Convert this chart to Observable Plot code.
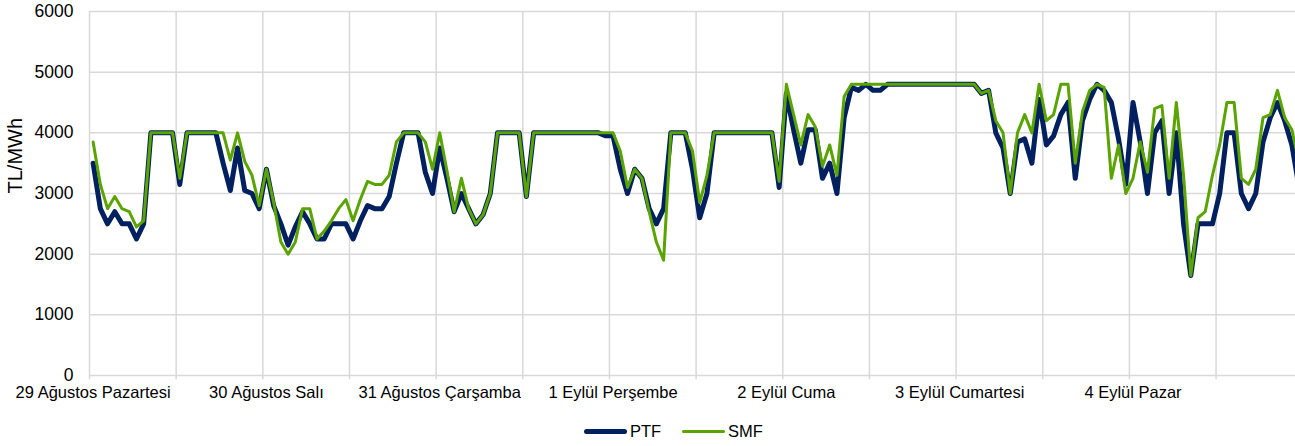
<!DOCTYPE html>
<html>
<head>
<meta charset="utf-8">
<script src="https://cdn.jsdelivr.net/npm/d3@7"></script>
<script src="https://cdn.jsdelivr.net/npm/@observablehq/plot@0.6"></script>
<style>
  html, body { margin: 0; padding: 0; background: #fff; overflow: hidden; }
  body { width: 1295px; height: 446px; font-family: "Liberation Sans", Arial, sans-serif; }
  #legend { position: relative; height: 30px; font-size: 16.5px; color: #000; }
  .item { position: absolute; top: 0; height: 30px; display: flex; align-items: center; }
  .sw { display: inline-block; width: 43px; border-radius: 3px; margin-right: 3px; }
</style>
</head>
<body>
<div id="chart"></div>
<div id="legend">
  <div class="item" style="left:584px"><span class="sw" style="height:5px;background:#002060"></span>PTF</div>
  <div class="item" style="left:682px"><span class="sw" style="height:3px;background:#5aa400"></span>SMF</div>
</div>
<script>
const dayLabels = ["29 Ağustos Pazartesi", "30 Ağustos Salı", "31 Ağustos Çarşamba", "1 Eylül Perşembe", "2 Eylül Cuma", "3 Eylül Cumartesi", "4 Eylül Pazar"];
const yTicks = [0, 1000, 2000, 3000, 4000, 5000, 6000];

const ptf = [
  3500, 2750, 2500, 2700, 2500, 2500, 2250, 2500, 4000, 4000, 4000, 4000, 3150, 4000, 4000, 4000, 4000, 4000, 3500, 3050, 3750, 3050, 3000, 2750,
  3400, 2800, 2500, 2150, 2450, 2700, 2500, 2250, 2250, 2500, 2500, 2500, 2250, 2550, 2800, 2750, 2750, 2950, 3500, 4000, 4000, 4000, 3350, 3000,
  3750, 3250, 2700, 3000, 2750, 2500, 2650, 3000, 4000, 4000, 4000, 4000, 2950, 4000, 4000, 4000, 4000, 4000, 4000, 4000, 4000, 4000, 4000, 3950,
  3950, 3400, 3000, 3400, 3250, 2750, 2500, 2750, 4000, 4000, 4000, 3400, 2600, 3000, 4000, 4000, 4000, 4000, 4000, 4000, 4000, 4000, 4000, 3100,
  4650, 4050, 3500, 4050, 4050, 3250, 3500, 3000, 4250, 4750, 4700, 4800, 4700, 4700, 4800, 4800, 4800, 4800, 4800, 4800, 4800, 4800, 4800, 4800,
  4800, 4800, 4800, 4650, 4700, 4000, 3750, 3000, 3850, 3900, 3500, 4550, 3800, 3950, 4300, 4500, 3250, 4200, 4550, 4800, 4700, 4500, 3900, 3150,
  4500, 3850, 3000, 4000, 4200, 3000, 4000, 2500, 1650, 2500, 2500, 2500, 3000, 4000, 4000, 3000, 2750, 3000, 3850, 4250, 4500, 4200, 3800, 3100
];
const smf = [
  3850, 3150, 2750, 2950, 2750, 2700, 2450, 2550, 4000, 4000, 4000, 4000, 3250, 4000, 4000, 4000, 4000, 4000, 4000, 3550, 4000, 3530, 3300, 2800,
  3400, 2850, 2200, 2000, 2200, 2750, 2750, 2250, 2380, 2550, 2750, 2900, 2550, 2900, 3200, 3150, 3150, 3300, 3850, 4000, 4000, 4000, 3850, 3400,
  4000, 3370, 2700, 3250, 2750, 2500, 2650, 3000, 4000, 4000, 4000, 4000, 2950, 4000, 4000, 4000, 4000, 4000, 4000, 4000, 4000, 4000, 4000, 4000,
  4000, 3700, 3100, 3400, 3250, 2700, 2200, 1900, 4000, 4000, 4000, 3700, 2850, 3300, 4000, 4000, 4000, 4000, 4000, 4000, 4000, 4000, 4000, 3200,
  4800, 4300, 3800, 4300, 4100, 3450, 3800, 3300, 4600, 4800, 4800, 4800, 4800, 4800, 4800, 4800, 4800, 4800, 4800, 4800, 4800, 4800, 4800, 4800,
  4800, 4800, 4800, 4650, 4700, 4200, 4000, 3000, 4000, 4300, 4000, 4800, 4200, 4300, 4800, 4800, 3500, 4350, 4700, 4800, 4750, 3250, 3800, 3000,
  3250, 3850, 3350, 4400, 4450, 3250, 4500, 3300, 1650, 2600, 2700, 3300, 3800, 4500, 4500, 3250, 3150, 3400, 4250, 4300, 4700, 4250, 4050, 3500
];

const rows = ptf.map((v, i) => ({ x: i + 0.5, ptf: v, smf: smf[i] }));
const xGrid = d3.range(0, 168, 12);
const dayTicks = dayLabels.map((d, k) => k * 24 + 0.5);

const chart = Plot.plot({
  width: 1295,
  height: 416,
  marginLeft: 89,
  marginRight: 0,
  marginTop: 11,
  marginBottom: 41,
  style: { fontFamily: "'Liberation Sans', Arial, sans-serif", fontSize: "16.5px", color: "#000", background: "#fff" },
  x: { domain: [0, 167] },
  y: { domain: [0, 6000] },
  marks: [
    Plot.ruleY(yTicks.slice(1), { stroke: "#d9d9d9", strokeWidth: 1.5 }),
    Plot.ruleX(xGrid, { y1: -70, y2: 6000, stroke: "#d9d9d9", strokeWidth: 1.5 }),
    Plot.ruleY([0], { stroke: "#d9d9d9", strokeWidth: 1.5 }),
    Plot.line(rows, { x: "x", y: "ptf", stroke: "#002060", strokeWidth: 5, strokeLinejoin: "round", strokeLinecap: "round", clip: true }),
    Plot.line(rows, { x: "x", y: "smf", stroke: "#5aa400", strokeWidth: 3, strokeLinejoin: "round", strokeLinecap: "round", clip: true }),
    Plot.axisY({ ticks: yTicks, tickFormat: d => String(d), tickSize: 0, tickPadding: 16, label: null, fontSize: 17.5 }),
    Plot.axisX({ ticks: dayTicks, tickFormat: (d, i) => dayLabels[i], tickSize: 0, tickPadding: 11, label: null, fontSize: 16.5 }),
    Plot.text(["TL/MWh"], { frameAnchor: "left", dx: -74, rotate: -90, fontSize: 20, fill: "#000" })
  ]
});
document.getElementById("chart").appendChild(chart);
</script>
</body>
</html>
